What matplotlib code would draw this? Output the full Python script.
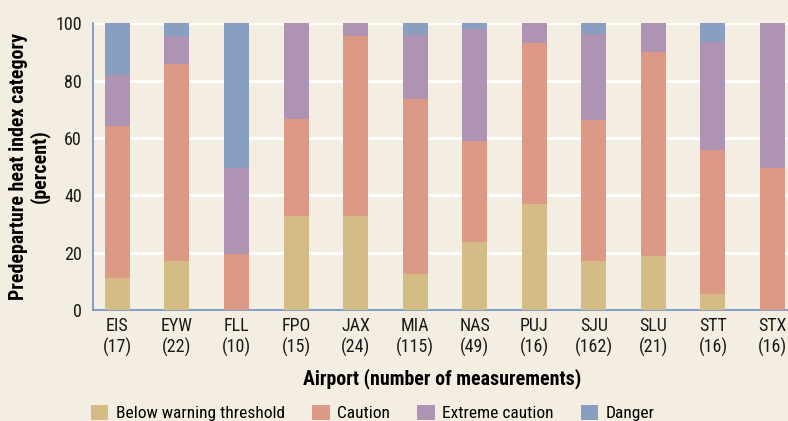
import numpy as np
import matplotlib
matplotlib.use("Agg")
import matplotlib.pyplot as plt
from matplotlib.patches import Patch

plt.rcParams['font.family'] = ['Roboto Condensed', 'Liberation Sans', 'DejaVu Sans']

airports = ['EIS', 'EYW', 'FLL', 'FPO', 'JAX', 'MIA', 'NAS', 'PUJ', 'SJU', 'SLU', 'STT', 'STX']
counts = [17, 22, 10, 15, 24, 115, 49, 16, 162, 21, 16, 16]

# percent in each category
below = [11.1, 17.1, 0.0, 32.8, 32.8, 12.5, 23.7, 36.9, 17.1, 18.8, 5.6, 0.0]
caution = [53.0, 68.7, 19.5, 33.8, 62.7, 61.0, 35.2, 56.1, 49.1, 71.1, 50.1, 49.5]
extreme = [17.7, 9.7, 30.1, 33.4, 4.5, 22.2, 39.0, 7.0, 30.1, 10.1, 37.8, 50.5]
danger = [18.2, 4.5, 50.4, 0.0, 0.0, 4.3, 2.1, 0.0, 3.7, 0.0, 6.5, 0.0]

categories = ['Below warning threshold', 'Caution', 'Extreme caution', 'Danger']
colors = ['#D4BC87', '#DC9986', '#AF93B2', '#87A0C1']
bg = '#F4EEE2'
axis_col = '#6A8FC0'

fig = plt.figure(figsize=(7.88, 4.21), dpi=100, facecolor=bg)
ax = fig.add_axes([0.118, 0.2637, 0.885, 0.6813], facecolor=bg)

x = np.arange(len(airports))
bottom = np.zeros(len(airports))
for vals, c in zip([below, caution, extreme, danger], colors):
    ax.bar(x, vals, bottom=bottom, width=0.42, color=c, zorder=3)
    bottom += np.array(vals)

ax.set_ylim(0, 100)
ax.set_xlim(-0.41, 11.3)
ax.set_yticks([0, 20, 40, 60, 80, 100])
ax.yaxis.grid(True, color='white', linewidth=2.2, zorder=1)
ax.set_axisbelow(True)
ax.tick_params(axis='both', length=0, labelsize=13, labelcolor='#1a1a1a')
ax.tick_params(axis='x', pad=5)
ax.tick_params(axis='y', pad=8)
ax.set_xticks(x)
ax.set_xticklabels([f'{a}\n({n})' for a, n in zip(airports, counts)], linespacing=1.2)

for s in ['top', 'right']:
    ax.spines[s].set_visible(False)
for s in ['left', 'bottom']:
    ax.spines[s].set_color(axis_col)
    ax.spines[s].set_linewidth(1.2)

ax.set_xlabel('Airport (number of measurements)', fontsize=14.3, fontweight='bold', labelpad=8)
ax.set_ylabel('Predeparture heat index category\n(percent)', fontsize=14.3, fontweight='bold',
              labelpad=4, linespacing=1.05)

handles = [Patch(facecolor=c, edgecolor='none') for c in colors]
fig.legend(handles, categories, ncol=4, loc='center left', bbox_to_anchor=(91 / 788, 1 - 413 / 421),
           frameon=False, fontsize=12.5, handlelength=1.0, handleheight=1.0,
           handletextpad=0.45, columnspacing=1.55, borderpad=0, borderaxespad=0)

fig.savefig('out.png', dpi=100, facecolor=bg)
